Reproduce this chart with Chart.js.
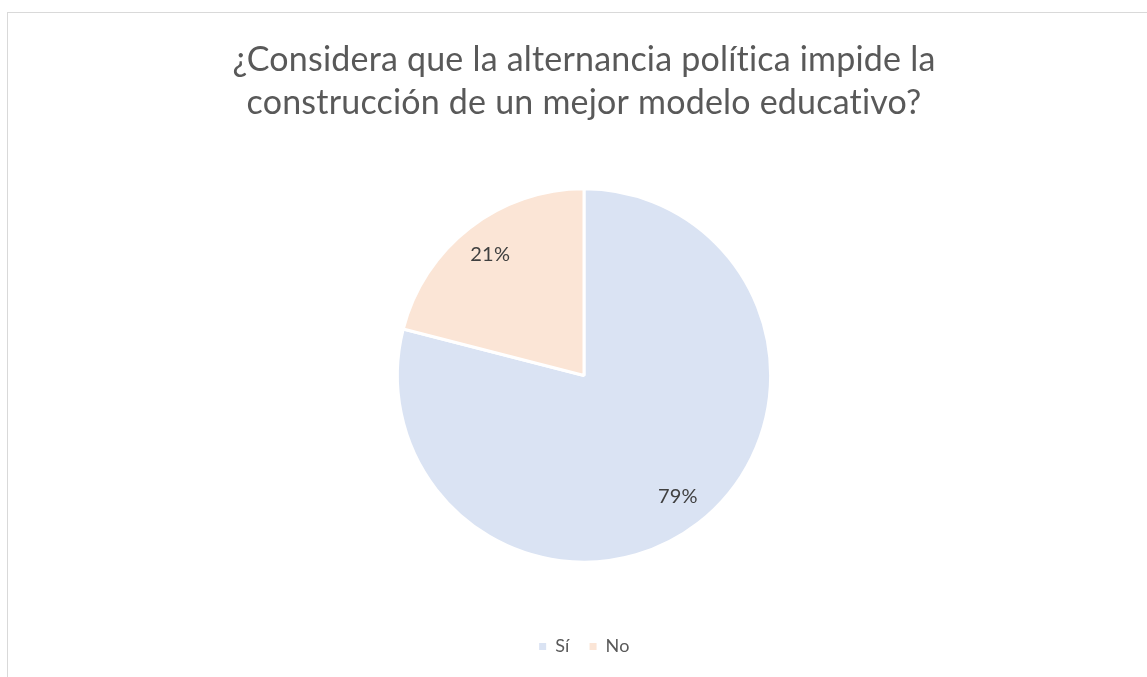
<!DOCTYPE html>
<html>
<head>
<meta charset="utf-8">
<script src="https://cdn.jsdelivr.net/npm/chart.js@4"></script>
<style>
    html, body { margin: 0; padding: 0; background: #fff; }
    #wrap { position: relative; width: 1147px; height: 677px; overflow: hidden; }
    #frame { position: absolute; left: 7px; top: 12px; width: 1200px; height: 700px; border: 1px solid #d9d9d9; box-sizing: border-box; }
    #chart { position: absolute; left: 0; top: 0; }
</style>
</head>
<body>
<div id="wrap">
    <div id="frame"></div>
    <canvas id="chart" width="1147" height="677"></canvas>
</div>
<script>
const titleLines = ['¿Considera que la alternancia política impide la', 'construcción de un mejor modelo educativo?'];
const categories = ['Sí', 'No'];
const percentValues = [79, 21];
const sliceColors = ['#DAE3F3', '#FBE5D6'];

// tiny letter spacing keeps Lato from joining "ti" into a ligature
const noLigatures = {
    id: 'noLigatures',
    beforeDraw(chart) {
        chart.ctx.letterSpacing = '0.2px';
    }
};

// percent labels inside each slice, like Excel's "best fit"
const sliceLabels = {
    id: 'sliceLabels',
    afterDatasetsDraw(chart) {
        const ctx = chart.ctx;
        const meta = chart.getDatasetMeta(0);
        ctx.save();
        ctx.font = '20px Lato';
        ctx.fillStyle = '#404040';
        ctx.textAlign = 'center';
        ctx.textBaseline = 'middle';
        meta.data.forEach((arc, i) => {
            const p = arc.getProps(['x', 'y', 'startAngle', 'endAngle', 'outerRadius'], true);
            const mid = (p.startAngle + p.endAngle) / 2;
            const r = p.outerRadius * 0.82;
            ctx.fillText(percentValues[i] + '%', p.x + Math.cos(mid) * r, p.y + Math.sin(mid) * r);
        });
        ctx.restore();
    }
};

new Chart(document.getElementById('chart'), {
    type: 'pie',
    data: {
        labels: categories,
        datasets: [{
            data: percentValues,
            backgroundColor: sliceColors,
            borderColor: '#ffffff',
            borderWidth: 3
        }]
    },
    options: {
        responsive: false,
        animation: false,
        events: [],
        layout: { padding: { left: 21, right: 0, top: 12, bottom: 11.5 } },
        plugins: {
            title: {
                display: true,
                text: titleLines,
                color: '#595959',
                font: { family: 'Lato', size: 34, weight: 'normal', lineHeight: 1.27 },
                padding: { top: 26, bottom: 63 }
            },
            legend: {
                position: 'bottom',
                title: {
                    display: true,
                    text: '',
                    font: { size: 12, lineHeight: 1.2 },
                    padding: { top: 0, bottom: 39.5 }
                },
                labels: {
                    color: '#595959',
                    font: { family: 'Lato', size: 18 },
                    boxWidth: 7,
                    boxHeight: 7,
                    padding: 20,
                    generateLabels(chart) {
                        const items = Chart.overrides.pie.plugins.legend.labels.generateLabels(chart);
                        items.forEach(item => {
                            item.lineWidth = 0;
                            item.strokeStyle = item.fillStyle;
                        });
                        return items;
                    }
                }
            },
            tooltip: { enabled: false }
        }
    },
    plugins: [noLigatures, sliceLabels]
});
</script>
</body>
</html>
